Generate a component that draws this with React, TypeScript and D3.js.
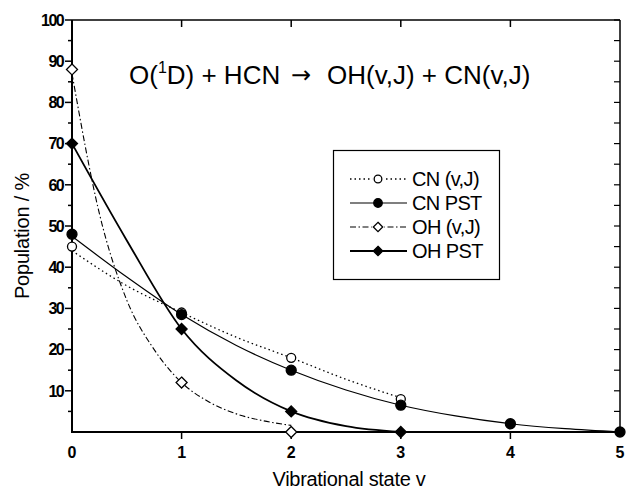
import React from 'react';
import * as d3 from 'd3';

const width = 626;
const height = 489;
const margin = {top: 20, right: 5, bottom: 57, left: 72};
const font = '"Liberation Sans", Arial, sans-serif';

// measured points
const states = [0, 1, 2, 3, 4, 5];
const cnVJ = [45, 29, 18, 8];
const cnPST = [48, 28.5, 15, 6.5, 2, 0];
const ohVJ = [88, 12, 0];
const ohPST = [70, 25, 5, 0];

// fitted curves
const cnVJFitX = [0, 0.5, 1, 1.5, 2, 2.5, 3];
const cnVJFitY = [44, 35.5, 29, 23, 18, 12.8, 8.3];
const cnPSTFitX = [0, 0.5, 1, 1.5, 2, 2.5, 3, 3.5, 4, 4.5, 5];
const cnPSTFitY = [47.5, 37.6, 28.5, 21, 15, 10.2, 6.5, 3.9, 2, 0.8, 0];
const ohVJFitX = [0, 0.25, 0.5, 0.75, 1, 1.25, 1.5, 1.75, 2];
const ohVJFitY = [87, 53, 32, 20, 12, 7.3, 4.4, 2.7, 1.6];
const ohPSTFitX = [0, 0.5, 1, 1.5, 2, 2.5, 3];
const ohPSTFitY = [70, 46.5, 25, 12.5, 5, 1.4, 0];

const xTicks = [0, 1, 2, 3, 4, 5];
const yTicks = [10, 20, 30, 40, 50, 60, 70, 80, 90, 100];
const yMinor = [5, 15, 25, 35, 45, 55, 65, 75, 85, 95];

const legendItems = ['CN (v,J)', 'CN PST', 'OH (v,J)', 'OH PST'];

const x = d3.scaleLinear().domain([0, 5]).range([margin.left, width - margin.right - 1]);
const y = d3.scaleLinear().domain([0, 100]).range([height - margin.bottom, margin.top]);

const line = d3.line<[number, number]>()
  .x(d => x(d[0]))
  .y(d => y(d[1]))
  .curve(d3.curveMonotoneX);

const zip = (xs: number[], ys: number[]) => ys.map((v, i) => [xs[i], v] as [number, number]);

const styles = [
  {dash: '1.5,3', width: 1.3, marker: 'circle', fill: 'white'},
  {dash: null, width: 1.2, marker: 'circle', fill: 'black'},
  {dash: '6,2.5,1.5,2.5', width: 1.1, marker: 'diamond', fill: 'white'},
  {dash: null, width: 1.8, marker: 'diamond', fill: 'black'},
];

function Marker({cx, cy, kind, fill, halo, size = 1}: {cx: number; cy: number; kind: string; fill: string; halo?: boolean; size?: number}) {
  const sw = 1.3;
  if (kind === 'circle') {
    return (
      <g>
        {halo && <circle cx={cx} cy={cy} r={7 * size} fill="white" />}
        <circle cx={cx} cy={cy} r={(fill === 'black' ? 5 : 4.5) * size} fill={fill} stroke="black" strokeWidth={sw} />
      </g>
    );
  }
  const s = 5.5 * size;
  return (
    <g>
      {halo && <circle cx={cx} cy={cy} r={7.5 * size} fill="white" />}
      <path d={`M${cx},${cy - s}L${cx + s},${cy}L${cx},${cy + s}L${cx - s},${cy}Z`} fill={fill} stroke="black" strokeWidth={sw} />
    </g>
  );
}

export default function App() {
  const fits = [
    zip(cnVJFitX, cnVJFitY),
    zip(cnPSTFitX, cnPSTFitY),
    zip(ohVJFitX, ohVJFitY),
    zip(ohPSTFitX, ohPSTFitY),
  ];
  const points = [cnVJ, cnPST, ohVJ, ohPST];
  const x0 = x(0), x1 = x(5), y0 = y(0), y1 = y(100);

  return (
    <svg width={width} height={height} style={{position: 'absolute', left: 0, top: 0, background: 'white'}} fontFamily={font}>
      {/* fitted curves */}
      {fits.map((f, i) => (
        <path key={'f' + i} d={line(f) || ''} fill="none" stroke="black"
          strokeWidth={styles[i].width} strokeDasharray={styles[i].dash || undefined} />
      ))}

      {/* frame */}
      <line x1={x0} x2={x1} y1={y1} y2={y1} stroke="black" strokeWidth={1.5} />
      <line x1={x1} x2={x1} y1={y1} y2={y0} stroke="black" strokeWidth={1.5} />
      <line x1={x0} x2={x0} y1={y1} y2={y0 + 1} stroke="black" strokeWidth={2} />
      <line x1={x0} x2={x1 + 1} y1={y0} y2={y0} stroke="black" strokeWidth={2} />

      {/* left axis */}
      {yTicks.map(t => (
        <g key={'y' + t}>
          <line x1={x0 - 7} x2={x0} y1={y(t)} y2={y(t)} stroke="black" strokeWidth={1.5} />
          <text x={x0 - 9} y={y(t)} dy="0.36em" textAnchor="end" fontSize={16} fontWeight="bold" letterSpacing={-1.6}>{t}</text>
        </g>
      ))}
      {yMinor.map(t => (
        <line key={'ym' + t} x1={x0 - 4} x2={x0} y1={y(t)} y2={y(t)} stroke="black" strokeWidth={1.5} />
      ))}
      {/* right axis ticks */}
      {[...yTicks, ...yMinor].map(t => (
        <line key={'yr' + t} x1={x1 - 6} x2={x1} y1={y(t)} y2={y(t)} stroke="black" strokeWidth={1.2} />
      ))}

      {/* bottom and top axes */}
      {xTicks.map(t => (
        <g key={'x' + t}>
          {t > 0 && t < 5 && <line x1={x(t)} x2={x(t)} y1={y0} y2={y0 + 7} stroke="black" strokeWidth={1.5} />}
          {t > 0 && t < 5 && <line x1={x(t)} x2={x(t)} y1={y1} y2={y1 + 7} stroke="black" strokeWidth={1.5} />}
          <text x={x(t)} y={y0 + 26} textAnchor="middle" fontSize={16} fontWeight="bold">{t}</text>
        </g>
      ))}

      {/* points */}
      {points.map((vals, i) => vals.map((v, j) => (
        <Marker key={`p${i}-${j}`} cx={x(states[j])} cy={y(v)} kind={styles[i].marker} fill={styles[i].fill} />
      )))}

      {/* axis titles */}
      <text x={349} y={486} textAnchor="middle" fontSize={20} letterSpacing={-0.3}>Vibrational state v</text>
      <text transform="translate(29,236) rotate(-90)" textAnchor="middle" fontSize={20} letterSpacing={-0.2}>Population / %</text>

      {/* reaction */}
      <text x={129} y={84} fontSize={26}>
        O(<tspan fontSize={16} dy={-11}>1</tspan><tspan dy={11}>{'D) + HCN'}</tspan>
      </text>
      <text x={301} y={83} fontSize={24} textAnchor="middle" fontFamily="'DejaVu Sans'">{'\u2192'}</text>
      <text x={327} y={84} fontSize={26}>OH(v,J) + CN(v,J)</text>

      {/* legend */}
      <rect x={333.5} y={150.5} width={166} height={129} fill="white" stroke="black" strokeWidth={1.2} />
      {legendItems.map((name, i) => {
        const ly = 179 + i * 24;
        return (
          <g key={'l' + i}>
            <line x1={350} x2={407} y1={ly} y2={ly} stroke="black"
              strokeWidth={styles[i].width} strokeDasharray={styles[i].dash || undefined} />
            <Marker cx={378} cy={ly} kind={styles[i].marker} fill={styles[i].fill}
              halo={styles[i].dash !== null} size={0.85} />
            <text x={412} y={ly} dy="0.36em" fontSize={20} letterSpacing={-0.6}>{name}</text>
          </g>
        );
      })}
    </svg>
  );
}
